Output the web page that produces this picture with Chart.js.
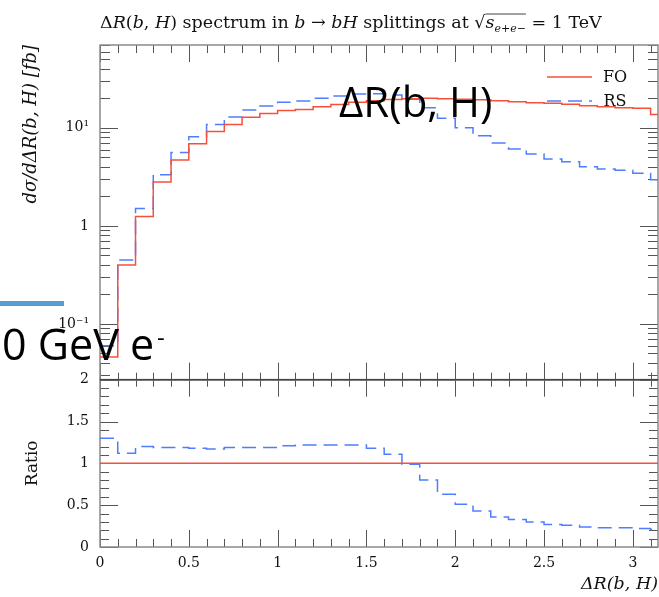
<!DOCTYPE html>
<html>
<head>
<meta charset="utf-8">
<script src="https://cdn.jsdelivr.net/npm/chart.js@4.4.1/dist/chart.umd.min.js"></script>
<style>
  html, body { margin: 0; padding: 0; background: #fff; }
  #wrap { position: relative; width: 659px; height: 597px; }
</style>
</head>
<body>
<div id="wrap"><canvas id="spectrum" width="659" height="597"></canvas></div>
<script>
// bin edges in Delta R(b,H), last bin closes at pi
var binEdges = [0, 0.1, 0.2, 0.3, 0.4, 0.5, 0.6, 0.7, 0.8, 0.9, 1.0, 1.1, 1.2, 1.3, 1.4, 1.5,
                1.6, 1.7, 1.8, 1.9, 2.0, 2.1, 2.2, 2.3, 2.4, 2.5, 2.6, 2.7, 2.8, 2.9, 3.0, 3.1, 3.1416];

var foValues = [0.046, 0.40, 1.25, 2.8, 4.7, 6.9, 9.2, 10.8, 12.8, 14.0, 15.0, 15.4, 16.4, 17.3, 18.2, 18.9,
                19.5, 19.8, 20.0, 19.8, 19.6, 19.4, 18.9, 18.5, 18.0, 17.8, 17.4, 16.8, 16.4, 16.0, 15.8, 13.7];
var rsValues = [0.060, 0.45, 1.50, 3.33, 5.6, 8.1, 10.8, 12.9, 15.2, 16.7, 18.2, 18.8, 20.0, 21.1, 22.2, 22.3,
                21.6, 19.6, 16.0, 12.5, 10.0, 8.3, 7.0, 6.1, 5.4, 4.8, 4.5, 4.0, 3.8, 3.7, 3.45, 2.95];
var foRatio  = [1, 1, 1, 1, 1, 1, 1, 1, 1, 1, 1, 1, 1, 1, 1, 1,
                1, 1, 1, 1, 1, 1, 1, 1, 1, 1, 1, 1, 1, 1, 1, 1];
var rsRatio  = [1.30, 1.12, 1.20, 1.19, 1.19, 1.18, 1.17, 1.19, 1.19, 1.19, 1.21, 1.22, 1.22, 1.22, 1.22, 1.18,
                1.11, 0.99, 0.80, 0.63, 0.51, 0.43, 0.36, 0.33, 0.30, 0.27, 0.26, 0.24, 0.23, 0.23, 0.22, 0.21];

var xTicks = [0, 0.5, 1, 1.5, 2, 2.5, 3];
var xTickLabels = ['0', '0.5', '1', '1.5', '2', '2.5', '3'];
var yTicks = [0.1, 1, 10];
var yTickLabels = ['10\u207B\u00B9', '1', '10\u00B9'];
var ratioTicks = [0, 0.5, 1, 1.5, 2];
var ratioTickLabels = ['0', '0.5', '1', '1.5', '2'];

var RED = '#f4503a';
var BLUE = '#4f7dff';
var SERIF = "'DejaVu Serif', 'Liberation Serif', serif";

// histogram as left-edge points + closing point, drawn with stepped lines
function histPoints(edges, values) {
    var pts = [];
    for (var i = 0; i < values.length; i++) {
        pts.push({x: edges[i], y: values[i]});
    }
    pts.push({x: edges[values.length], y: values[values.length - 1]});
    return pts;
}

function line(ctx, x1, y1, x2, y2) {
    ctx.beginPath();
    ctx.moveTo(x1, y1);
    ctx.lineTo(x2, y2);
    ctx.stroke();
}

var frameTicks = {
    id: 'frameTicks',
    beforeDatasetsDraw: function (chart) {
        var ctx = chart.ctx;
        var sx = chart.scales.x, sy = chart.scales.y, sr = chart.scales.y2;
        var L = chart.chartArea.left, R = chart.chartArea.right;
        var mTop = sy.top, mBot = sy.bottom, rTop = sr.top, rBot = sr.bottom;
        ctx.save();
        ctx.strokeStyle = '#555';
        ctx.lineWidth = 1;
        // x ticks every 0.1
        for (var i = 0; i <= 31; i++) {
            var px = Math.round(sx.getPixelForValue(i / 10)) + 0.5;
            var major = i % 5 === 0;
            var len = major ? 17 : 8;
            line(ctx, px, mTop, px, mTop + len);
            line(ctx, px, mBot - (major ? 17 : 7), px, mBot + (major ? 17 : 7));
            line(ctx, px, rBot, px, rBot - len);
        }
        // main log ticks
        for (var d = -2; d <= 1; d++) {
            for (var m = 1; m <= 9; m++) {
                var v = m * Math.pow(10, d);
                if (v < sy.min || v > sy.max) continue;
                var py = Math.round(sy.getPixelForValue(v)) + 0.5;
                var l2 = m === 1 ? 18 : 10;
                line(ctx, L, py, L + l2, py);
                line(ctx, R, py, R - l2, py);
            }
        }
        // ratio ticks
        for (var k = 0; k <= 20; k++) {
            var ry = Math.round(sr.getPixelForValue(k / 10)) + 0.5;
            var l3 = k % 5 === 0 ? 18 : 9;
            line(ctx, L, ry, L + l3, ry);
            line(ctx, R, ry, R - l3, ry);
        }
        // frames
        ctx.strokeStyle = '#8a8a8a';
        ctx.lineWidth = 1.5;
        ctx.strokeRect(L, mTop, R - L, mBot - mTop);
        ctx.strokeRect(L, rTop, R - L, rBot - rTop);
        ctx.strokeStyle = '#444';
        ctx.lineWidth = 1.5;
        line(ctx, L, mBot, R, mBot);
        ctx.restore();
    },
    afterDraw: function (chart) {
        var ctx = chart.ctx;
        ctx.save();
        // title, left aligned on the plot frame
        var parts = [
            ['\u0394', 0], ['R', 1], ['(', 0], ['b', 1], [', ', 0], ['H', 1], [') spectrum in ', 0],
            ['b', 1], [' \u2192 ', 0], ['bH', 1], [' splittings at ', 0], ['\u221A', 0], ['s', 1],
            ['e+e\u2212', 2], [' = 1 TeV', 0]
        ];
        var x = chart.chartArea.left, y = 28, sqrtEnd = 0;
        ctx.fillStyle = '#111';
        ctx.textBaseline = 'alphabetic';
        ctx.textAlign = 'left';
        parts.forEach(function (p) {
            ctx.font = p[1] === 2 ? 'italic 11px ' + SERIF : (p[1] === 1 ? 'italic ' : '') + '17.5px ' + SERIF;
            ctx.fillText(p[0], x, y + (p[1] === 2 ? 4 : 0));
            if (p[0] === '\u221A') sqrtEnd = x + ctx.measureText(p[0]).width;
            x += ctx.measureText(p[0]).width;
            if (p[1] === 2) {
                ctx.strokeStyle = '#111';
                ctx.lineWidth = 0.8;
                line(ctx, sqrtEnd, y - 14, x, y - 14);
            }
        });

        // legend
        var ds = chart.data.datasets;
        var rows = [[ds[0], 77], [ds[1], 101]];
        rows.forEach(function (r) {
            ctx.strokeStyle = r[0].borderColor;
            ctx.lineWidth = r[0].borderWidth;
            ctx.setLineDash(r[0].borderDash || []);
            line(ctx, 547, r[1], 592, r[1]);
            ctx.setLineDash([]);
            ctx.fillStyle = '#111';
            ctx.font = '16px ' + SERIF;
            ctx.textAlign = 'center';
            ctx.textBaseline = 'middle';
            ctx.fillText(r[0].label, 615, r[1] + 1);
        });

        // overlaid slide fragments
        ctx.fillStyle = '#000';
        ctx.textAlign = 'left';
        ctx.textBaseline = 'alphabetic';
        ctx.font = "42px 'Open Sans', sans-serif";
        ctx.fillText('\u0394R(b, H)', 339, 117);
        ctx.font = "43px 'Open Sans', sans-serif";
        ctx.fillText('0 GeV e', 2, 360);
        var w = ctx.measureText('0 GeV e').width;
        ctx.font = "24px 'Open Sans', sans-serif";
        ctx.fillText('-', 5 + w, 346);
        ctx.fillStyle = '#5b9bd5';
        ctx.fillRect(0, 301, 64, 5);
        ctx.restore();
    }
};

var tickFont = {family: SERIF, size: 14};

var chart = new Chart(document.getElementById('spectrum').getContext('2d'), {
    type: 'line',
    data: {
        datasets: [
            {label: 'FO', data: histPoints(binEdges, foValues), yAxisID: 'y',
             borderColor: RED, borderWidth: 1.5, stepped: true, pointRadius: 0, fill: false},
            {label: 'RS', data: histPoints(binEdges, rsValues), yAxisID: 'y',
             borderColor: BLUE, borderWidth: 1.5, borderDash: [14, 7], stepped: true, pointRadius: 0, fill: false},
            {label: 'FO ratio', data: histPoints(binEdges, foRatio), yAxisID: 'y2',
             borderColor: RED, borderWidth: 1.5, stepped: true, pointRadius: 0, fill: false},
            {label: 'RS ratio', data: histPoints(binEdges, rsRatio), yAxisID: 'y2',
             borderColor: BLUE, borderWidth: 1.5, borderDash: [14, 7], stepped: true, pointRadius: 0, fill: false}
        ]
    },
    options: {
        responsive: false,
        animation: false,
        devicePixelRatio: 1,
        layout: {padding: {top: 45, right: 1, left: 0, bottom: 0}},
        plugins: {
            legend: {display: false},
            tooltip: {enabled: false}
        },
        scales: {
            x: {
                type: 'linear',
                min: 0,
                max: Math.PI,
                afterBuildTicks: function (s) { s.ticks = xTicks.map(function (v) { return {value: v}; }); },
                afterFit: function (s) { s.height = 50; },
                ticks: {
                    callback: function (v, i) { return xTickLabels[i]; },
                    font: tickFont, color: '#111', padding: 8, maxRotation: 0, autoSkip: false
                },
                grid: {display: false, drawTicks: false},
                border: {display: false},
                title: {display: true, text: '\u0394R(b, H)', align: 'end',
                        font: {family: SERIF, size: 17.5, style: 'italic'}, color: '#111',
                        padding: {top: 0, bottom: 2}}
            },
            y: {
                type: 'logarithmic',
                position: 'left',
                stack: 'panels',
                stackWeight: 2,
                weight: 1,
                min: 0.027,
                max: 70,
                afterBuildTicks: function (s) { s.ticks = yTicks.map(function (v) { return {value: v}; }); },
                afterFit: function (s) { s.width = 100; },
                ticks: {
                    callback: function (v, i) { return yTickLabels[i]; },
                    font: tickFont, color: '#111', padding: 11, autoSkip: false
                },
                grid: {display: false, drawTicks: false},
                border: {display: false},
                title: {display: true, text: 'd\u03C3/d\u0394R(b, H) [fb]', align: 'end',
                        font: {family: SERIF, size: 18, style: 'italic'}, color: '#111',
                        padding: {top: 21, bottom: 0}}
            },
            y2: {
                type: 'linear',
                position: 'left',
                stack: 'panels',
                stackWeight: 1,
                weight: 0,
                min: 0,
                max: 2,
                afterBuildTicks: function (s) { s.ticks = ratioTicks.map(function (v) { return {value: v}; }); },
                afterFit: function (s) { s.width = 100; },
                ticks: {
                    callback: function (v, i) { return ratioTickLabels[i]; },
                    font: tickFont, color: '#111', padding: 11, autoSkip: false
                },
                grid: {display: false, drawTicks: false},
                border: {display: false},
                title: {display: true, text: 'Ratio', align: 'center',
                        font: {family: SERIF, size: 17}, color: '#111',
                        padding: {top: 22, bottom: 0}}
            }
        }
    },
    plugins: [frameTicks]
});
</script>
</body>
</html>
